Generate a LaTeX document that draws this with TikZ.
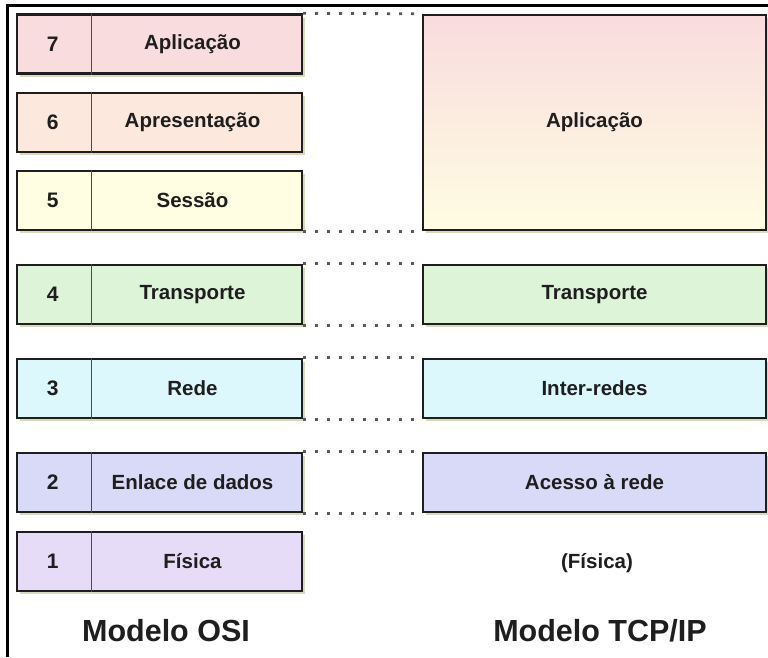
\documentclass[tikz,border=0pt]{standalone}
\usepackage{fontspec}
\setmainfont{Liberation Sans}
\usetikzlibrary{shadows}
\definecolor{c7}{HTML}{F9DCDE}
\definecolor{c6}{HTML}{FCE8DC}
\definecolor{c5}{HTML}{FFFDE2}
\definecolor{c4}{HTML}{DDF4D8}
\definecolor{c3}{HTML}{DCF8FC}
\definecolor{c2}{HTML}{D9D9F8}
\definecolor{c1}{HTML}{E6DCF8}
\definecolor{edge}{HTML}{1E1E1E}
\definecolor{shadowc}{HTML}{C9C9A0}
\definecolor{dotc}{HTML}{5A5A5A}
\tikzset{
  layer/.style={draw=edge, line width=2.4pt, rectangle, inner sep=0pt,
    drop shadow={shadow xshift=2.5pt, shadow yshift=-3pt, fill=shadowc, opacity=0.7},
    font=\bfseries\fontsize{20.5}{24}\selectfont, text=edge},
  osibox/.style={layer, minimum width=285pt, minimum height=59pt},
  tcpbox/.style={layer, minimum width=343pt, minimum height=59pt},
  numtxt/.style={font=\bfseries\fontsize{21}{25}\selectfont, text=edge},
  lbl/.style={font=\bfseries\fontsize{20.5}{24}\selectfont, text=edge},
  title/.style={font=\bfseries\fontsize{30.5}{36}\selectfont, text=edge},
  divider/.style={draw=edge!80, line width=0.9pt},
  dotline/.style={draw=dotc, line width=2.8pt, dash pattern=on 2.8pt off 9.2pt},
  frame/.style={draw=black, line width=3pt}
}
\begin{document}
\begin{tikzpicture}[x=1pt, y=-1pt]
\useasboundingbox (0,0) rectangle (768,657);
% frame
\coordinate (fa) at (7.5,657);
\coordinate (fb) at (7.5,5.5);
\coordinate (fc) at (768,5.5);
\draw[frame] (fa) -- (fb) -- (fc);
% OSI layers
\node[osibox, fill=c7] (osi7) at (159.5,44) {};
\node[osibox, fill=c6] (osi6) at (159.5,122.5) {};
\node[osibox, fill=c5] (osi5) at (159.5,200.5) {};
\node[osibox, fill=c4] (osi4) at (159.5,294.5) {};
\node[osibox, fill=c3] (osi3) at (159.5,388.5) {};
\node[osibox, fill=c2] (osi2) at (159.5,482.5) {};
\node[osibox, fill=c1] (osi1) at (159.5,561.5) {};
\foreach \n/\t in {7/Aplicação,6/Apresentação,5/Sessão,4/Transporte,3/Rede,2/Enlace de dados,1/Física}{
  \draw[divider] ([xshift=76pt]osi\n.north west) -- ([xshift=76pt]osi\n.south west);
  \node[numtxt] (n\n) at ([xshift=37pt]osi\n.west) {\n};
  \node[lbl] (l\n) at ([xshift=33pt]osi\n.center) {\t};
}
% TCP/IP layers
\node[layer, minimum width=343pt, minimum height=215pt, top color=c7, bottom color=c5] (tapp) at (594.5,122.5) {Aplicação};
\node[tcpbox, fill=c4] (ttr) at (594.5,294.5) {Transporte};
\node[tcpbox, fill=c3] (tnet) at (594.5,388.5) {Inter-redes};
\node[tcpbox, fill=c2] (tacc) at (594.5,482.5) {Acesso à rede};
\node[lbl] (tfis) at (597,563) {(Física)};
% dotted correspondences
\draw[dotline] (osi7.north east) -- (tapp.north west);
\draw[dotline] (osi5.south east) -- (tapp.south west);
\draw[dotline] (osi4.north east) -- (ttr.north west);
\draw[dotline] (osi4.south east) -- (ttr.south west);
\draw[dotline] (osi3.north east) -- (tnet.north west);
\draw[dotline] (osi3.south east) -- (tnet.south west);
\draw[dotline] (osi2.north east) -- (tacc.north west);
\draw[dotline] (osi2.south east) -- (tacc.south west);
% titles
\node[title] (tosi) at (166,631) {Modelo OSI};
\node[title] (ttcp) at (600,631) {Modelo TCP/IP};
\end{tikzpicture}
\end{document}
